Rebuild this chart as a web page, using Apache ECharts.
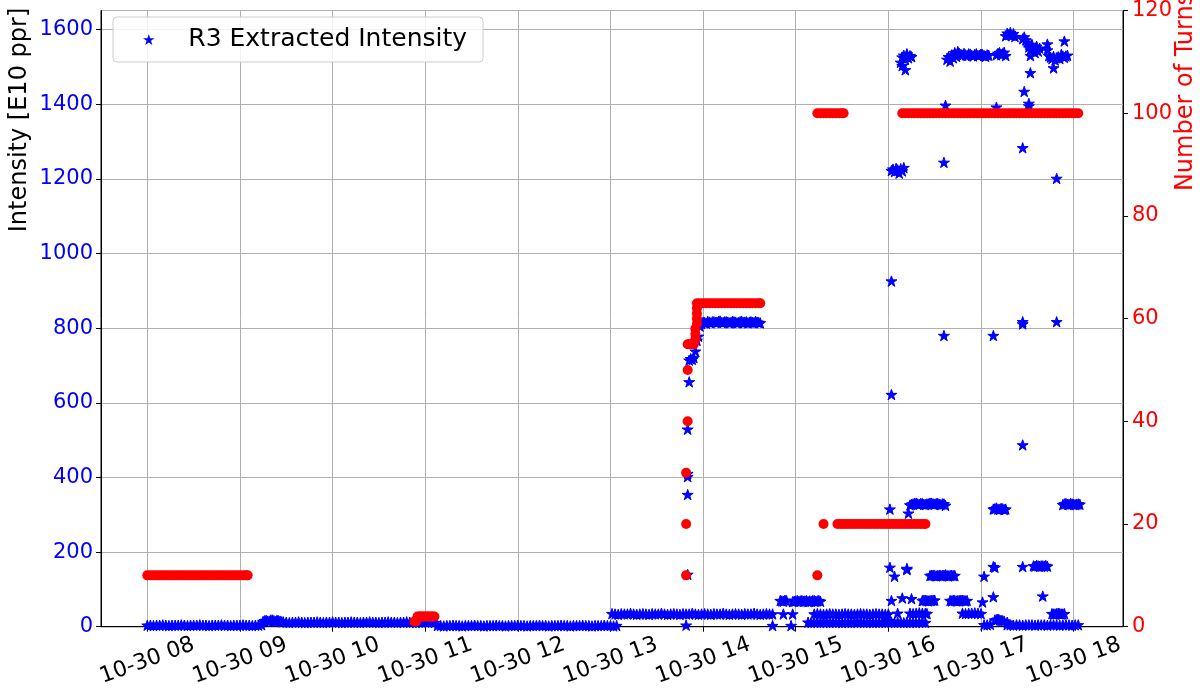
<!DOCTYPE html>
<html><head><meta charset="utf-8">
<script src="https://cdn.jsdelivr.net/npm/echarts@6/dist/echarts.min.js"></script>
<style>html,body{margin:0;padding:0;background:#fff}#c{width:1204px;height:689px}</style>
</head><body><div id="c"></div>
<script>
// ---- data ----
const xTickHours = [8, 9, 10, 11, 12, 13, 14, 15, 16, 17, 18];
const xTickLabels = ['10-30 08','10-30 09','10-30 10','10-30 11','10-30 12','10-30 13','10-30 14','10-30 15','10-30 16','10-30 17','10-30 18'];
const leftTicks = [0, 200, 400, 600, 800, 1000, 1200, 1400, 1600];
const rightTicks = [0, 20, 40, 60, 80, 100, 120];
const intensityName = 'R3 Extracted Intensity';
const turnsName = 'Number of Turns';

// R3 Extracted Intensity [E10 ppr] : [time, value]
const intensityLow = [
 ['08:00',4],['08:02',4],['08:04',3],['08:06',4],['08:08',4],['08:10',5],['08:12',4],['08:14',3],['08:16',4],['08:18',4],
 ['08:20',4],['08:22',5],['08:24',4],['08:26',3],['08:28',4],['08:30',4],['08:32',4],['08:34',5],['08:36',4],['08:38',4],
 ['08:40',3],['08:42',4],['08:44',4],['08:46',4],['08:48',5],['08:50',4],['08:52',4],['08:54',3],['08:56',4],['08:58',4],
 ['09:00',4],['09:02',5],['09:04',4],['09:06',4],['09:08',3],['09:10',4],['09:12',4],['09:14',5],
 ['09:15',14],['09:16',16],['09:17',17],['09:18',15],['09:19',15],['09:20',18],['09:21',18],['09:22',16],['09:23',14],['09:24',17],
 ['09:25',16],['09:26',15],['09:27',13],
 ['09:28',13],['09:30',12],['09:32',11],['09:34',12],['09:36',12],['09:38',13],['09:40',12],['09:42',11],['09:44',12],['09:46',12],
 ['09:48',12],['09:50',13],['09:52',12],['09:54',11],['09:56',12],['09:58',12],['10:00',13],['10:02',12],['10:04',12],['10:06',11],
 ['10:08',12],['10:10',12],['10:12',13],['10:14',12],['10:16',12],['10:18',11],['10:20',12],['10:22',12],['10:24',13],['10:26',12],
 ['10:28',12],['10:30',11],['10:32',12],['10:34',12],['10:36',13],['10:38',12],['10:40',12],['10:42',11],['10:44',12],['10:46',12],
 ['10:48',13],['10:50',12],['10:52',12],['10:54',11],['10:56',12],['10:58',12],['11:00',13],['11:02',12],['11:04',12],['11:06',11],
 ['11:08',3],['11:10',3],['11:12',2],['11:14',3],['11:16',3],['11:18',4],['11:20',3],['11:22',3],['11:24',2],['11:26',3],
 ['11:28',3],['11:30',3],['11:32',4],['11:34',3],['11:36',3],['11:38',2],['11:40',3],['11:42',3],['11:44',3],['11:46',4],
 ['11:48',3],['11:50',3],['11:52',2],['11:54',3],['11:56',3],['11:58',3],['12:00',4],['12:02',3],['12:04',3],['12:06',2],
 ['12:08',3],['12:10',3],['12:12',3],['12:14',4],['12:16',3],['12:18',3],['12:20',2],['12:22',3],['12:24',3],['12:26',3],
 ['12:28',4],['12:30',3],['12:32',3],['12:34',2],['12:36',3],['12:38',3],['12:40',3],['12:42',4],['12:44',3],['12:46',3],
 ['12:48',2],['12:50',3],['12:52',3],['12:54',3],['12:56',4],['12:58',3],['13:00',3],['13:02',2],['13:04',3]
];
const intensityMid = [
 ['13:01',35],['13:03',34],['13:05',33],['13:07',35],['13:09',34],['13:11',34],['13:13',36],['13:15',34],['13:17',33],['13:19',34],
 ['13:21',35],['13:23',34],['13:25',33],['13:27',35],['13:29',34],['13:31',34],['13:33',36],['13:35',34],['13:37',33],['13:39',34],
 ['13:41',35],['13:43',34],['13:45',33],['13:47',35],['13:49',34],['13:51',34],['13:53',36],['13:55',34],['13:57',33],['13:59',34],
 ['14:01',35],['14:03',34],['14:05',33],['14:07',35],['14:09',34],['14:11',34],['14:13',36],['14:15',34],['14:17',33],['14:19',34],
 ['14:21',35],['14:23',34],['14:25',33],['14:27',35],['14:29',34],['14:31',34],['14:33',36],['14:35',34],['14:37',33],['14:39',34],
 ['14:41',35],['14:43',34],['14:45',34],
 ['13:49',4],['13:50',140],['13:50',354],['13:50',402],['13:50',410],['13:50',529],['13:51',656],['13:51',714],['13:52',718],
 ['13:53',716],['13:54',721],['13:55',738],['13:56',767],['13:57',778],['13:58',805],
 ['13:59',812],['14:00',816],['14:01',815],['14:02',813],['14:03',818],['14:04',816],['14:05',814],['14:06',817],['14:07',817],
 ['14:08',815],['14:09',816],['14:10',818],['14:11',819],['14:12',815],['14:13',815],['14:14',817],['14:15',817],['14:16',816],
 ['14:17',814],['14:18',815],['14:19',818],['14:20',817],['14:21',816],['14:22',814],['14:23',815],['14:24',817],['14:25',818],
 ['14:26',815],['14:27',816],['14:28',817],['14:29',814],['14:30',816],['14:31',817],['14:32',815],['14:33',815],['14:34',818],
 ['14:35',816],['14:36',815],['14:37',814],
 ['14:45',3],['14:50',70],['14:51',69],['14:52',68],['14:52',34],['14:53',71],['14:54',70],['14:57',3],['14:58',34],['14:58',67],
 ['14:59',68],['15:00',69],['15:01',70],['15:02',68],['15:03',69],['15:04',70],['15:05',68],['15:06',69],['15:07',70],['15:08',67],
 ['15:09',69],['15:10',68],['15:11',70],['15:12',70],['15:13',68],['15:14',69],['15:15',70],['15:16',68],
 ['15:08',12],['15:10',11],['15:12',12],['15:14',12],['15:16',11],['15:18',12],['15:20',12],['15:22',11],['15:24',12],['15:26',12],
 ['15:28',12],['15:30',11],['15:32',12],['15:34',12],['15:36',11],['15:38',12],['15:40',12],['15:42',12],['15:44',11],['15:46',12],
 ['15:48',12],['15:50',11],['15:52',12],['15:54',12],['15:56',12],['15:58',11],['16:00',12],['16:02',12],['16:04',11],['16:06',12],
 ['16:08',12],['16:10',11],['16:12',12],['16:14',12],['16:16',12],['16:18',11],['16:20',12],['16:22',12],['16:24',11],
 ['15:12',34],['15:14',35],['15:16',34],['15:18',33],['15:20',34],['15:22',35],['15:24',34],['15:26',34],['15:28',33],['15:30',34],
 ['15:32',35],['15:34',34],['15:36',34],['15:38',33],['15:40',34],['15:42',35],['15:44',34],['15:46',34],['15:48',33],['15:50',34],
 ['15:52',35],['15:54',34],['15:56',34],['15:58',33],['16:00',34]
];
const intensityHigh = [
 ['16:00',16],['16:01',159],['16:01',315],['16:02',622],['16:02',926],['16:02',70],['16:02',1222],['16:03',1226],['16:04',1219],
 ['16:04',135],['16:05',1228],['16:06',1224],['16:06',36],['16:07',1215],['16:08',1227],['16:09',1221],['16:09',77],['16:10',1230],
 ['16:08',1512],['16:09',1526],['16:09',1503],['16:10',1531],['16:11',1492],['16:11',1520],['16:12',1528],['16:12',1535],
 ['16:13',1524],['16:14',1530],['16:15',1527],['16:12',153],['16:12',156],['16:13',304],['16:15',75],
 ['16:14',36],['16:16',35],['16:18',36],['16:20',37],['16:22',36],['16:24',36],['16:25',35],
 ['16:14',326],['16:15',328],['16:16',329],['16:17',330],['16:18',331],['16:19',329],['16:20',328],['16:21',330],['16:22',330],
 ['16:23',328],['16:24',327],['16:25',329],['16:26',329],['16:27',331],['16:28',331],['16:29',329],['16:30',328],['16:31',330],
 ['16:32',330],['16:33',328],['16:34',327],['16:35',329],['16:36',329],['16:37',325],
 ['16:22',70],['16:23',71],['16:24',71],['16:25',70],['16:26',69],['16:27',70],['16:28',70],['16:29',71],['16:30',71],
 ['16:27',137],['16:28',138],['16:29',138],['16:30',137],['16:31',136],['16:32',137],['16:33',138],['16:34',137],['16:35',137],
 ['16:36',138],['16:37',139],['16:38',137],['16:39',136],['16:40',137],['16:41',138],['16:42',137],['16:43',137],
 ['16:36',1244],['16:36',780],['16:37',1397],
 ['16:38',1520],['16:39',1527],['16:40',1515],['16:41',1532],['16:42',1524],['16:43',1538],['16:44',1528],['16:45',1541],
 ['16:46',1536],['16:47',1533],['16:48',1531],['16:49',1536],['16:50',1532],['16:51',1530],['16:52',1535],['16:53',1534],
 ['16:54',1531],['16:55',1529],['16:56',1533],['16:57',1535],['16:58',1530],['16:59',1531],['17:00',1534],['17:01',1533],
 ['17:02',1530],['17:03',1528],['17:04',1532],['17:05',1531],
 ['16:40',70],['16:41',69],['16:42',71],['16:43',70],['16:44',69],['16:45',70],['16:46',70],['16:47',71],['16:48',71],
 ['16:49',70],['16:50',69],['16:51',70],
 ['16:48',36],['16:50',35],['16:52',36],['16:54',36],['16:56',37],['16:58',36],['17:00',35],
 ['17:01',66],['17:02',135],['17:02',5],['17:04',5],['17:06',6],['17:08',80],['17:08',161],['17:08',780],['17:09',159],
 ['17:08',315],['17:09',316],['17:10',318],['17:11',315],['17:12',314],['17:13',317],['17:14',316],['17:15',314],['17:16',315],
 ['17:10',1392],
 ['17:09',18],['17:10',19],['17:11',20],['17:12',18],['17:13',17],['17:14',16],['17:15',15],['17:17',12],
 ['17:10',1532],['17:11',1536],['17:12',1538],['17:13',1533],['17:14',1535],['17:15',1539],['17:16',1530],
 ['17:16',1583],['17:17',1590],['17:18',1586],['17:19',1592],['17:20',1584],['17:21',1589],['17:22',1581],
 ['17:27',1575],['17:28',1580],['17:29',1572],
 ['17:30',1566],['17:31',1553],['17:32',1545],['17:33',1560],['17:34',1548],['17:35',1538],['17:36',1555],['17:37',1542],['17:38',1550],
 ['17:32',1530],['17:32',1484],['17:28',1434],['17:31',1402],['17:31',1395],['17:27',1283],['17:49',1201],
 ['17:43',1561],['17:43',1545],['17:44',1530],['17:45',1526],['17:46',1522],['17:47',1528],['17:48',1518],['17:49',1524],
 ['17:50',1527],['17:51',1522],['17:52',1533],['17:53',1529],['17:54',1525],['17:55',1529],['17:56',1531],['17:47',1497],['17:54',1569],
 ['17:27',817],['17:27',811],['17:49',817],['17:27',487],
 ['17:27',161],['17:34',163],['17:35',162],['17:36',164],['17:37',163],['17:38',162],['17:39',163],['17:40',163],['17:41',162],
 ['17:42',164],['17:43',162],['17:40',82],
 ['17:46',35],['17:47',34],['17:48',34],['17:49',35],['17:50',36],['17:51',35],['17:52',34],['17:53',34],['17:54',35],
 ['17:53',327],['17:54',329],['17:55',330],['17:56',328],['17:57',328],['17:58',330],['17:59',329],['18:00',328],['18:01',327],
 ['18:02',328],['18:03',329],['18:04',328],
 ['17:17',5],['17:19',5],['17:21',4],['17:23',5],['17:25',5],['17:27',4],['17:29',5],['17:31',5],['17:33',5],['17:35',4],
 ['17:37',5],['17:39',5],['17:41',5],['17:43',4],['17:45',5],['17:47',5],['17:49',5],['17:51',4],['17:53',5],['17:55',5],
 ['17:57',5],['17:59',4],['18:01',5],['18:03',5]
];

// Number of Turns : [time, value]
const turnsPoints = [
 ['08:00',10],['08:02',10],['08:04',10],['08:06',10],['08:08',10],['08:10',10],['08:12',10],['08:14',10],['08:16',10],['08:18',10],
 ['08:20',10],['08:22',10],['08:24',10],['08:26',10],['08:28',10],['08:30',10],['08:32',10],['08:34',10],['08:36',10],['08:38',10],
 ['08:40',10],['08:42',10],['08:44',10],['08:46',10],['08:48',10],['08:50',10],['08:52',10],['08:54',10],['08:56',10],['08:58',10],
 ['09:00',10],['09:02',10],['09:04',10],['09:05',10],
 ['10:53',1],['10:54',1],['10:55',2],['10:56',2],['10:57',2],['10:58',2],['10:59',2],['11:00',2],['11:01',2],['11:02',2],
 ['11:03',2],['11:04',2],['11:05',2],['11:06',2],
 ['13:49',10],['13:49',20],['13:49',30],['13:50',40],['13:50',50],['13:50',55],['13:51',55],['13:52',55],['13:53',55],['13:54',55],
 ['13:55',56],['13:55',57],['13:55',58],['13:56',59],['13:56',60],['13:56',61],['13:56',62],
 ['13:56',63],['13:58',63],['14:00',63],['14:02',63],['14:04',63],['14:06',63],['14:08',63],['14:10',63],['14:12',63],['14:14',63],
 ['14:16',63],['14:18',63],['14:20',63],['14:22',63],['14:24',63],['14:26',63],['14:28',63],['14:30',63],['14:32',63],['14:34',63],
 ['14:36',63],['14:37',63],
 ['15:14',10],['15:18',20],
 ['15:14',100],['15:16',100],['15:18',100],['15:20',100],['15:22',100],['15:24',100],['15:26',100],['15:28',100],['15:30',100],['15:31',100],
 ['15:27',20],['15:29',20],['15:31',20],['15:33',20],['15:35',20],['15:37',20],['15:39',20],['15:41',20],['15:43',20],['15:45',20],
 ['15:47',20],['15:49',20],['15:51',20],['15:53',20],['15:55',20],['15:57',20],['15:59',20],['16:01',20],['16:03',20],['16:05',20],
 ['16:07',20],['16:09',20],['16:11',20],['16:13',20],['16:15',20],['16:17',20],['16:19',20],['16:21',20],['16:23',20],['16:24',20],
 ['16:09',100],['16:11',100],['16:13',100],['16:15',100],['16:17',100],['16:19',100],['16:21',100],['16:23',100],['16:25',100],['16:27',100],
 ['16:29',100],['16:31',100],['16:33',100],['16:35',100],['16:37',100],['16:39',100],['16:41',100],['16:43',100],['16:45',100],['16:47',100],
 ['16:49',100],['16:51',100],['16:53',100],['16:55',100],['16:57',100],['16:59',100],['17:01',100],['17:03',100],['17:05',100],['17:07',100],
 ['17:09',100],['17:11',100],['17:13',100],['17:15',100],['17:17',100],['17:19',100],['17:21',100],['17:23',100],['17:25',100],['17:27',100],
 ['17:29',100],['17:31',100],['17:33',100],['17:35',100],['17:37',100],['17:39',100],['17:41',100],['17:43',100],['17:45',100],['17:47',100],
 ['17:49',100],['17:51',100],['17:53',100],['17:55',100],['17:57',100],['17:59',100],['18:01',100],['18:03',100]
];

// ---- build ----
function toHours(s) { const p = s.split(':'); return Number(p[0]) + Number(p[1]) / 60; }
const intensityData = intensityLow.concat(intensityMid, intensityHigh).map(d => [toHours(d[0]), d[1]]);
const turnsData = turnsPoints.map(d => [toHours(d[0]), d[1]]);
const FONT = 'DejaVu Sans';
const STAR = 'path://M100,0L122.45,69.1L195.11,69.1L136.33,111.8L158.78,180.9L100,138.2L41.22,180.9L63.67,111.8L4.89,69.1L77.55,69.1Z';

const chart = echarts.init(document.getElementById('c'), null, {renderer: 'canvas'});
chart.setOption({
  animation: false,
  backgroundColor: '#ffffff',
  grid: {left: 101, right: 81, top: 3, bottom: 62, show: true, borderColor: '#000', borderWidth: 1, backgroundColor: 'transparent'},
  legend: {
    data: [{name: intensityName, icon: STAR}], left: 113, top: 17, orient: 'horizontal',
    padding: [10, 16, 10, 30], itemWidth: 69, itemHeight: 11, symbolKeepAspect: true,
    backgroundColor: 'rgba(255,255,255,0.85)', borderColor: '#cccccc', borderWidth: 1, borderRadius: 4,
    itemStyle: {borderWidth: 0},
    textStyle: {fontSize: 25, color: '#000', fontFamily: FONT}
  },
  xAxis: {
    type: 'value', min: 7.5, max: 18.533,
    axisLine: {show: true, lineStyle: {color: '#000', width: 1}},
    axisTick: {show: true, length: 5, customValues: xTickHours, lineStyle: {color: '#000'}},
    axisLabel: {
      customValues: xTickHours, rotate: 20, align: 'center', verticalAlign: 'middle', margin: 34,
      fontSize: 22, fontFamily: FONT, color: '#000',
      formatter: v => xTickLabels[xTickHours.indexOf(Math.round(v))] || ''
    },
    splitLine: {show: true, lineStyle: {color: '#b0b0b0', width: 1}}
  },
  yAxis: [
    {
      type: 'value', position: 'left', min: 0, max: 1651, interval: 200,
      axisLine: {show: true, lineStyle: {color: '#000'}},
      axisTick: {show: true, length: 5, lineStyle: {color: '#000'}},
      axisLabel: {fontSize: 21, fontFamily: FONT, color: '#0000ff', margin: 8, showMaxLabel: false,
        formatter: v => leftTicks.indexOf(v) >= 0 ? String(v) : ''},
      splitLine: {show: true, lineStyle: {color: '#b0b0b0', width: 1}}
    },
    {
      type: 'value', position: 'right', min: 0, max: 120, interval: 20,
      axisLine: {show: true, lineStyle: {color: '#000'}},
      axisTick: {show: true, length: 5, lineStyle: {color: '#000'}},
      axisLabel: {fontSize: 21, fontFamily: FONT, color: '#ff0000', margin: 9,
        formatter: v => rightTicks.indexOf(v) >= 0 ? String(v) : ''},
      splitLine: {show: false}
    }
  ],
  graphic: [
    {type: 'text', x: 20, y: 120, rotation: Math.PI / 2,
      style: {text: 'Intensity [E10 ppr]', font: '24px "DejaVu Sans"', fill: '#000', align: 'center', verticalAlign: 'middle'}},
    {type: 'text', x: 1186, y: 92, rotation: Math.PI / 2,
      style: {text: turnsName, font: '24px "DejaVu Sans"', fill: '#ff0000', align: 'center', verticalAlign: 'middle'}}
  ],
  series: [
    {name: intensityName, type: 'scatter', yAxisIndex: 0, symbol: STAR, symbolSize: 11, symbolKeepAspect: true,
      itemStyle: {color: '#0000ff', opacity: 1, borderColor: '#0000ff', borderWidth: 1}, data: intensityData},
    {name: turnsName, type: 'scatter', yAxisIndex: 1, symbol: 'circle', symbolSize: 10,
      itemStyle: {color: '#ff0000', opacity: 1}, data: turnsData}
  ]
});
</script>
</body></html>
